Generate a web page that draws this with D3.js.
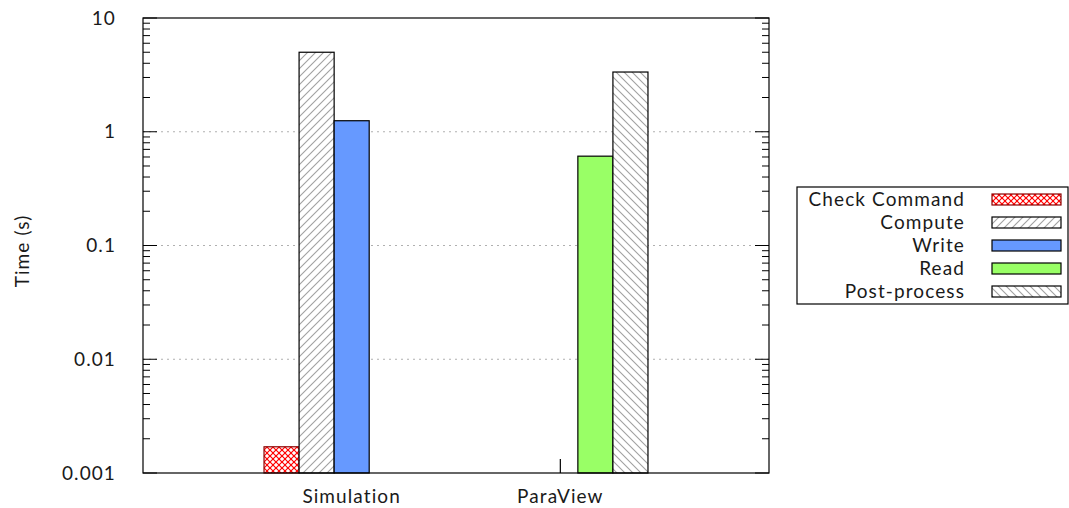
<!DOCTYPE html>
<html>
<head>
<meta charset="utf-8">
<script src="https://cdn.jsdelivr.net/npm/d3@7"></script>
<style>
  html, body { margin: 0; padding: 0; background: #fff; }
  svg { display: block; }
  text { font-family: "Lato", "Open Sans", sans-serif; fill: #1a1a1a; letter-spacing: 1.1px; }
</style>
</head>
<body>
<svg id="chart" width="1069" height="508"></svg>
<script>
// Timing per phase, in seconds
const groups = ["Simulation", "ParaView"];
const seriesNames = ["Check Command", "Compute", "Write", "Read", "Post-process"];
const checkCommand = [0.0017, null];
const compute = [5.0, null];
const write = [1.25, null];
const read = [null, 0.61];
const postProcess = [null, 3.35];
const writeErrHigh = [null, 0.00133];
const yTicks = [10, 1, 0.1, 0.01, 0.001];
const yTickLabels = ["10", "1", "0.1", "0.01", "0.001"];

const seriesValues = [checkCommand, compute, write, read, postProcess];

const svg = d3.select("#chart");
const plot = { left: 143, right: 769, top: 18, bottom: 473 };
const FS = 19;

const x = d3.scaleLinear().domain([-1, 2]).range([plot.left, plot.right]);
const y = d3.scaleLog().domain([0.001, 10]).range([plot.bottom, plot.top]);
const slot = 0.168;

// Fill patterns
const defs = svg.append("defs");
function hatch(id, dir, color) {
  const p = defs.append("pattern").attr("id", id)
    .attr("patternUnits", "userSpaceOnUse").attr("width", 8).attr("height", 8);
  p.append("rect").attr("width", 8).attr("height", 8).attr("fill", "#fff");
  const segs = dir > 0
    ? [[0, 8, 8, 0], [-2, 2, 2, -2], [6, 10, 10, 6]]
    : [[0, 0, 8, 8], [-2, 6, 2, 10], [6, -2, 10, 2]];
  segs.forEach(s => p.append("line")
    .attr("x1", s[0]).attr("y1", s[1]).attr("x2", s[2]).attr("y2", s[3])
    .attr("stroke", color).attr("stroke-width", 1.1));
}
hatch("hatchFwd", 1, "#a0a0a0");
hatch("hatchBack", -1, "#a0a0a0");
(function () {
  const p = defs.append("pattern").attr("id", "cross")
    .attr("patternUnits", "userSpaceOnUse").attr("width", 6).attr("height", 6);
  p.append("rect").attr("width", 6).attr("height", 6).attr("fill", "#fff");
  [[0, 6, 6, 0], [0, 0, 6, 6], [-1, 1, 1, -1], [5, 7, 7, 5], [-1, 5, 1, 7], [5, -1, 7, 1]]
    .forEach(s => p.append("line")
      .attr("x1", s[0]).attr("y1", s[1]).attr("x2", s[2]).attr("y2", s[3])
      .attr("stroke", "#ff0000").attr("stroke-width", 1.2));
})();

const styles = [
  { fill: "url(#cross)", stroke: "#8b0000" },
  { fill: "url(#hatchFwd)", stroke: "#000" },
  { fill: "#6699ff", stroke: "#000" },
  { fill: "#99ff66", stroke: "#000" },
  { fill: "url(#hatchBack)", stroke: "#000" }
];

// Grid lines at inner decades
svg.append("g").selectAll("line")
  .data(yTicks.filter(t => t > 0.001 && t < 10))
  .join("line")
  .attr("x1", plot.left).attr("x2", plot.right)
  .attr("y1", d => y(d)).attr("y2", d => y(d))
  .attr("stroke", "#b0b0b0").attr("stroke-width", 1)
  .attr("stroke-dasharray", "2,4");

// Bars
const bars = [];
seriesValues.forEach((vals, si) => {
  vals.forEach((v, gi) => {
    if (v != null) bars.push({ si, gi, v });
  });
});
svg.append("g").selectAll("rect")
  .data(bars)
  .join("rect")
  .attr("x", d => x(d.gi + (d.si - 2.5) * slot))
  .attr("width", d => x(d.gi + (d.si - 1.5) * slot) - x(d.gi + (d.si - 2.5) * slot))
  .attr("y", d => y(d.v))
  .attr("height", d => plot.bottom - y(d.v))
  .attr("fill", d => styles[d.si].fill)
  .attr("stroke", d => styles[d.si].stroke)
  .attr("stroke-width", 1.2);

// Error stub on the Write slot
svg.append("g").selectAll("line")
  .data(writeErrHigh.map((v, gi) => ({ v, gi })).filter(d => d.v != null))
  .join("line")
  .attr("x1", d => x(d.gi)).attr("x2", d => x(d.gi))
  .attr("y1", d => y(d.v)).attr("y2", plot.bottom)
  .attr("stroke", "#000").attr("stroke-width", 1.2);

// Y ticks (left and right, pointing inward)
const minor = [];
for (let e = -3; e < 1; e++) for (let m = 2; m <= 9; m++) minor.push(m * Math.pow(10, e));
const tickG = svg.append("g").attr("stroke", "#000").attr("stroke-width", 1);
tickG.selectAll(".maj").data(yTicks).join("g").each(function (d) {
  const g = d3.select(this);
  g.append("line").attr("x1", plot.left).attr("x2", plot.left + 14).attr("y1", y(d)).attr("y2", y(d));
  g.append("line").attr("x1", plot.right).attr("x2", plot.right - 14).attr("y1", y(d)).attr("y2", y(d));
});
tickG.selectAll(".min").data(minor).join("g").each(function (d) {
  const g = d3.select(this);
  g.append("line").attr("x1", plot.left).attr("x2", plot.left + 7).attr("y1", y(d)).attr("y2", y(d));
  g.append("line").attr("x1", plot.right).attr("x2", plot.right - 7).attr("y1", y(d)).attr("y2", y(d));
});

// Y tick labels
svg.append("g").selectAll("text")
  .data(yTicks)
  .join("text")
  .attr("x", plot.left - 27).attr("y", d => y(d))
  .attr("dy", "0.35em").attr("text-anchor", "end")
  .attr("font-size", FS)
  .text((d, i) => yTickLabels[i]);

// Plot border
svg.append("rect")
  .attr("x", plot.left).attr("y", plot.top)
  .attr("width", plot.right - plot.left).attr("height", plot.bottom - plot.top)
  .attr("fill", "none").attr("stroke", "#000").attr("stroke-width", 1.2);

// X category labels
svg.append("g").selectAll("text")
  .data(groups)
  .join("text")
  .attr("x", (d, i) => x(i)).attr("y", 496)
  .attr("dy", "0.35em").attr("text-anchor", "middle")
  .attr("font-size", FS)
  .text(d => d);

// Y axis title
svg.append("text")
  .attr("transform", "translate(22,251) rotate(-90)")
  .attr("text-anchor", "middle").attr("dy", "0.35em")
  .attr("font-size", FS)
  .text("Time (s)");

// Legend
const leg = svg.append("g");
leg.append("rect")
  .attr("x", 797).attr("y", 187).attr("width", 271).attr("height", 117)
  .attr("fill", "#fff").attr("stroke", "#000").attr("stroke-width", 1.2);
const rowY = d3.scalePoint().domain(seriesNames).range([199.5, 291.5]);
seriesNames.forEach((name, i) => {
  leg.append("text")
    .attr("x", 965).attr("y", rowY(name)).attr("dy", "0.35em")
    .attr("text-anchor", "end").attr("font-size", FS)
    .text(name);
  leg.append("rect")
    .attr("x", 992).attr("y", rowY(name) - 5.5).attr("width", 69).attr("height", 11)
    .attr("fill", styles[i].fill).attr("stroke", styles[i].stroke).attr("stroke-width", 1.2);
});
</script>
</body>
</html>
